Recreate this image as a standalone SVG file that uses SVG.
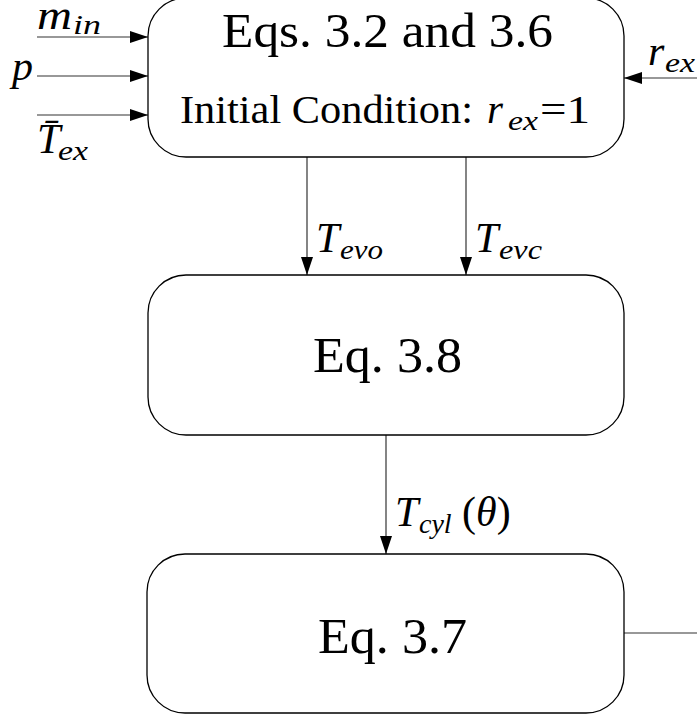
<svg xmlns="http://www.w3.org/2000/svg" width="697" height="719" viewBox="0 0 697 719" font-family="Liberation Serif, serif">
<defs>
<style>
.box{fill:#fff;stroke:#000;stroke-width:1.3}
.ln{stroke:#333;stroke-width:1.2;fill:none}
.m{font-style:italic}
</style>
<marker id="ah" markerUnits="userSpaceOnUse" markerWidth="18" markerHeight="12" refX="18" refY="6" orient="auto">
<path d="M0,0 L18,6 L0,12 Z" fill="#000"/>
</marker>
</defs>
<g id="connectors">
<line class="ln" x1="37" y1="37" x2="148" y2="37" marker-end="url(#ah)"/>
<line class="ln" x1="37" y1="76" x2="148" y2="76" marker-end="url(#ah)"/>
<line class="ln" x1="37" y1="115" x2="148" y2="115" marker-end="url(#ah)"/>
<line class="ln" x1="697" y1="78" x2="624" y2="78" marker-end="url(#ah)"/>
<line class="ln" x1="307" y1="157" x2="307" y2="275" marker-end="url(#ah)"/>
<line class="ln" x1="466" y1="157" x2="466" y2="275" marker-end="url(#ah)"/>
<line class="ln" x1="386" y1="435" x2="386" y2="554" marker-end="url(#ah)"/>
<line class="ln" x1="624" y1="633" x2="697" y2="633"/>
</g>
<g id="labels" font-family="Liberation Serif, serif">
<text class="m" x="37" y="29" font-size="41" textLength="35" lengthAdjust="spacingAndGlyphs">m</text>
<text class="m" x="73" y="34" font-size="28" textLength="28" lengthAdjust="spacingAndGlyphs">in</text>
<text class="m" x="12" y="80" font-size="42">p</text>
<text class="m" x="37" y="153" font-size="42">T̄</text>
<text class="m" x="58" y="160" font-size="28" textLength="30" lengthAdjust="spacingAndGlyphs">ex</text>
<text class="m" x="648" y="65" font-size="42">r</text>
<text class="m" x="665" y="72" font-size="28" textLength="30" lengthAdjust="spacingAndGlyphs">ex</text>
<text class="m" x="316" y="252" font-size="42">T</text>
<text class="m" x="340" y="259" font-size="28" textLength="43" lengthAdjust="spacingAndGlyphs">evo</text>
<text class="m" x="475" y="252" font-size="42">T</text>
<text class="m" x="499" y="259" font-size="28" textLength="43" lengthAdjust="spacingAndGlyphs">evc</text>
<text x="395" y="526" font-size="42"><tspan font-style="italic">T</tspan><tspan x="419" y="533" font-size="28" font-style="italic">cyl</tspan><tspan x="462" y="526">(</tspan><tspan font-style="italic">θ</tspan><tspan>)</tspan></text>
</g>
<g id="node1" font-family="Liberation Serif, serif">
<rect class="box" x="148" y="-2" width="476" height="159" rx="38" ry="38"/>
<text x="222" y="47" font-size="48" textLength="331" lengthAdjust="spacingAndGlyphs">Eqs. 3.2 and 3.6</text>
<text x="180" y="123" font-size="41" textLength="293" lengthAdjust="spacingAndGlyphs">Initial Condition:</text>
<text class="m" x="487" y="123" font-size="41">r</text>
<text class="m" x="508" y="130" font-size="27" textLength="30" lengthAdjust="spacingAndGlyphs">ex</text>
<text x="540" y="123" font-size="41" textLength="50" lengthAdjust="spacingAndGlyphs">=1</text>
</g>
<g id="node2" font-family="Liberation Serif, serif">
<rect class="box" x="148" y="275" width="476" height="160" rx="38" ry="38"/>
<text x="313" y="372" font-size="50" textLength="149" lengthAdjust="spacingAndGlyphs">Eq. 3.8</text>
</g>
<g id="node3" font-family="Liberation Serif, serif">
<rect class="box" x="147" y="554" width="477" height="159" rx="38" ry="38"/>
<text x="318" y="653" font-size="50" textLength="149" lengthAdjust="spacingAndGlyphs">Eq. 3.7</text>
</g>
</svg>
